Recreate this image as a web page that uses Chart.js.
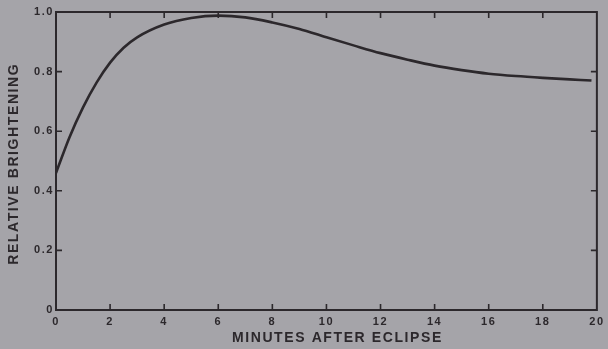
<!DOCTYPE html>
<html>
<head>
<meta charset="utf-8">
<script src="https://cdn.jsdelivr.net/npm/chart.js@4/dist/chart.umd.min.js"></script>
<style>
  html, body { margin: 0; padding: 0; background: #a5a4a9; }
  #wrap { width: 608px; height: 349px; }
</style>
</head>
<body>
<div id="wrap"><canvas id="c" width="608" height="349"></canvas></div>
<script>
// Data
const minutes = [0, 0.5, 1, 1.5, 2, 2.5, 3, 4, 5, 6, 7, 8, 9, 10, 11, 12, 13, 14, 15, 16, 17, 18, 19, 19.8];
const brightening = [0.46, 0.58, 0.68, 0.763, 0.83, 0.88, 0.915, 0.958, 0.980, 0.988, 0.982, 0.965, 0.943, 0.915, 0.888, 0.862, 0.840, 0.820, 0.805, 0.793, 0.785, 0.779, 0.774, 0.770];
const xTicks = [0, 2, 4, 6, 8, 10, 12, 14, 16, 18, 20];
const yTicks = [0, 0.2, 0.4, 0.6, 0.8, 1.0];
const xTitle = "MINUTES AFTER ECLIPSE";
const yTitle = "RELATIVE BRIGHTENING";

const INK = '#2c282c';
const FONT = "'Liberation Sans', Arial, sans-serif";

const frame = {
  id: 'frame',
  beforeDraw(chart) {
    chart.ctx.letterSpacing = '1.6px';
  },
  afterDraw(chart) {
    const ctx = chart.ctx;
    const a = chart.chartArea;
    const xs = chart.scales.x, ys = chart.scales.y;
    ctx.save();
    ctx.letterSpacing = '0px';
    ctx.strokeStyle = INK;
    ctx.lineWidth = 2;
    ctx.strokeRect(a.left, a.top, a.right - a.left, a.bottom - a.top);
    ctx.lineWidth = 1.6;
    const L = 6;
    ctx.beginPath();
    xTicks.forEach(v => {
      if (v === xs.min || v === xs.max) return;
      const px = xs.getPixelForValue(v);
      ctx.moveTo(px, a.bottom); ctx.lineTo(px, a.bottom - L);
      ctx.moveTo(px, a.top); ctx.lineTo(px, a.top + L);
    });
    yTicks.forEach(v => {
      if (v === ys.min || v === ys.max) return;
      const py = ys.getPixelForValue(v);
      ctx.moveTo(a.left, py); ctx.lineTo(a.left + L, py);
      ctx.moveTo(a.right, py); ctx.lineTo(a.right - L, py);
    });
    ctx.stroke();
    ctx.restore();
    ctx.letterSpacing = '0px';
  }
};

new Chart(document.getElementById('c'), {
  type: 'line',
  data: {
    datasets: [{
      data: minutes.map((m, i) => ({ x: m, y: brightening[i] })),
      borderColor: INK,
      borderWidth: 2.6,
      pointRadius: 0,
      cubicInterpolationMode: 'monotone',
      fill: false
    }]
  },
  options: {
    responsive: false,
    animation: false,
    devicePixelRatio: 1,
    layout: { padding: { top: 12, right: 2, left: 0, bottom: 0 } },
    plugins: { legend: { display: false }, tooltip: { enabled: false } },
    scales: {
      x: {
        type: 'linear', min: 0, max: 20,
        afterBuildTicks(scale) { scale.ticks = xTicks.map(v => ({ value: v })); },
        afterFit(scale) { scale.height = 39; },
        grid: { display: false, drawTicks: false },
        border: { display: false },
        ticks: {
          color: INK, padding: 5, maxRotation: 0, autoSkip: false,
          font: { family: FONT, size: 11, weight: 'bold' },
          callback: v => String(v)
        },
        title: {
          display: true, text: '    ' + xTitle, color: INK,
          font: { family: FONT, size: 14, weight: 'bold' },
          padding: { top: 0, bottom: 2 }
        }
      },
      y: {
        type: 'linear', min: 0, max: 1,
        afterBuildTicks(scale) { scale.ticks = yTicks.map(v => ({ value: v })); },
        afterFit(scale) { scale.width = 56; },
        grid: { display: false, drawTicks: false },
        border: { display: false },
        ticks: {
          color: INK, padding: 2, autoSkip: false,
          font: { family: FONT, size: 11, weight: 'bold' },
          callback: v => (v === 0 ? '0' : Number(v).toFixed(1))
        },
        title: {
          display: true, text: yTitle + ' ', color: INK,
          font: { family: FONT, size: 14, weight: 'bold' },
          padding: { top: 6, bottom: 0 }
        }
      }
    }
  },
  plugins: [frame]
});
</script>
</body>
</html>
